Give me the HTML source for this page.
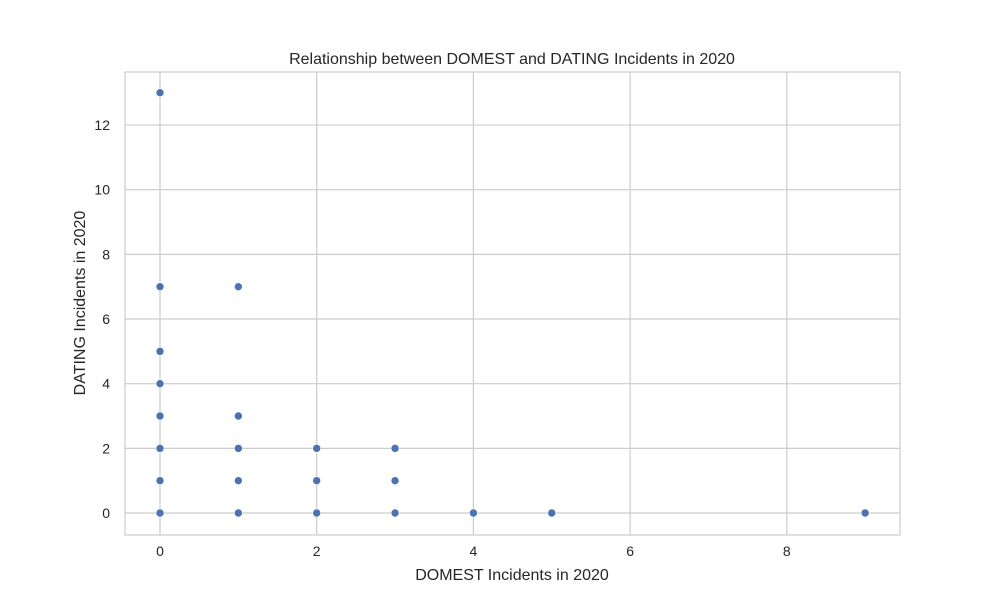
<!DOCTYPE html>
<html><head><meta charset="utf-8"><style>
body{margin:0;background:#fff;}
svg text{font-family:"Liberation Sans","DejaVu Sans",sans-serif;fill:#262626;}
</style></head><body>
<svg id="chart" width="1000" height="600" viewBox="0 0 1000 600" xmlns="http://www.w3.org/2000/svg">
<rect x="0" y="0" width="1000" height="600" fill="#fff"/>
<g id="grid"></g>
<rect x="125" y="72" width="775" height="463" fill="none" stroke="#cccccc" stroke-width="1.2"/>
<g id="ticks"></g>
<g id="points"></g>
<text x="512" y="64" text-anchor="middle" font-size="16">Relationship between DOMEST and DATING Incidents in 2020</text>
<text x="512" y="580" text-anchor="middle" font-size="16">DOMEST Incidents in 2020</text>
<text x="0" y="0" transform="translate(85,303) rotate(-90)" text-anchor="middle" font-size="16">DATING Incidents in 2020</text>
</svg>
<script>
const domest = [0,0,0,0,0,0,0,0,1,1,1,1,1,2,2,2,3,3,3,4,5,9];
const dating = [13,7,5,4,3,2,1,0,7,3,2,1,0,2,1,0,2,1,0,0,0,0];
const xTicks = [0,2,4,6,8];
const yTicks = [0,2,4,6,8,10,12];
const NS="http://www.w3.org/2000/svg";
function xs(v){return 160 + v*78.35;}
function ys(v){return 513 - v*32.33;}
const grid=document.getElementById('grid'), ticks=document.getElementById('ticks'), pts=document.getElementById('points');
function mk(tag,attrs){const e=document.createElementNS(NS,tag);for(const k in attrs)e.setAttribute(k,attrs[k]);return e;}
xTicks.forEach(t=>{
  const l=mk('line',{x1:xs(t),x2:xs(t),y1:72,y2:535,stroke:'#cccccc','stroke-width':1.2});
  
  
  grid.appendChild(l);
  const tx=mk('text',{x:xs(t),y:556,'text-anchor':'middle','font-size':14});
  
  
  tx.textContent=t;ticks.appendChild(tx);
});
yTicks.forEach(t=>{
  const l=mk('line',{x1:125,x2:900,y1:ys(t),y2:ys(t),stroke:'#cccccc','stroke-width':1.2});
  
  
  grid.appendChild(l);
  const tx=mk('text',{x:110,y:ys(t)+5,'text-anchor':'end','font-size':14});
  
  
  tx.textContent=t;ticks.appendChild(tx);
});
domest.forEach((d,i)=>{
  const c=mk('circle',{cx:xs(d),cy:ys(dating[i]),r:4,fill:'#4c72b0',stroke:'#fff','stroke-width':0.6});
  
  
  pts.appendChild(c);
});
</script>
</body></html>
